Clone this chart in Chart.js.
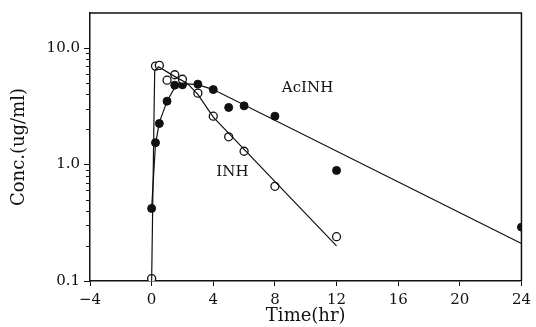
<!DOCTYPE html>
<html>
<head>
<meta charset="utf-8">
<script src="https://cdn.jsdelivr.net/npm/chart.js@4"></script>
<style>
  html, body { margin: 0; padding: 0; background: #fff; }
  #wrap { width: 536px; height: 327px; }
</style>
</head>
<body>
<div id="wrap"><canvas id="myChart"></canvas></div>
<script>
// measured points
var inhTime = [0, 0.25, 0.5, 1, 1.5, 2, 3, 4, 5, 6, 8, 12];
var inhConc = [0.105, 7.0, 7.1, 5.3, 5.9, 5.4, 4.1, 2.6, 1.73, 1.3, 0.65, 0.24];
var acTime = [0, 0.25, 0.5, 1, 1.5, 2, 3, 4, 5, 6, 8, 12, 24];
var acConc = [0.42, 1.54, 2.25, 3.5, 4.8, 4.83, 4.9, 4.4, 3.09, 3.19, 2.6, 0.89, 0.29];

// fitted curves
var inhFitTime = [0, 0.15, 0.2, 0.45, 1.4, 2.3, 3, 4, 12];
var inhFitConc = [0.1, 2.4, 6.4, 6.9, 5.8, 5.0, 4.0, 2.55, 0.2];
var acFitTime = [0, 0.25, 0.5, 1, 1.5, 2, 3, 4, 24];
var acFitConc = [0.42, 1.5, 2.3, 3.5, 4.6, 4.95, 4.85, 4.4, 0.21];

var xTicks = [-4, 0, 4, 8, 12, 16, 20, 24];
var yTicks = [0.1, 1, 10];
var yTickLabels = ['0.1', '1.0', '10.0'];

function pts(xs, ys) {
    return xs.map(function (x, i) { return { x: x, y: ys[i] }; });
}

var serif = 'DejaVu Serif';

// frame on top/right, minor log ticks, curve labels
var extras = {
    id: 'extras',
    afterDraw: function (chart) {
        var c = chart.ctx, a = chart.chartArea;
        var xs = chart.scales.x, ys = chart.scales.y;
        c.save();
        c.strokeStyle = '#111';
        c.lineWidth = 1.5;
        c.beginPath();
        c.moveTo(a.left, a.top);
        c.lineTo(a.right, a.top);
        c.lineTo(a.right, a.bottom);
        c.stroke();

        c.lineWidth = 1;
        c.beginPath();
        [0.1, 1].forEach(function (d) {
            for (var k = 2; k <= 9; k++) {
                var v = d * k;
                var py = Math.round(ys.getPixelForValue(v)) + 0.5;
                c.moveTo(a.left - 4, py);
                c.lineTo(a.left, py);
            }
        });
        c.stroke();

        c.fillStyle = '#111';
        c.font = '15px "' + serif + '"';
        c.textBaseline = 'middle';
        c.textAlign = 'left';
        c.fillText('AcINH', xs.getPixelForValue(8.45), ys.getPixelForValue(4.5));
        c.fillText('INH', xs.getPixelForValue(4.2), ys.getPixelForValue(0.86));
        c.restore();
    }
};

var ctx = document.getElementById('myChart').getContext('2d');
var chart = new Chart(ctx, {
    type: 'scatter',
    data: {
        datasets: [
            {
                label: 'INH fit',
                data: pts(inhFitTime, inhFitConc),
                showLine: true,
                borderColor: '#111',
                borderWidth: 1.2,
                pointRadius: 0,
                tension: 0
            },
            {
                label: 'AcINH fit',
                data: pts(acFitTime, acFitConc),
                showLine: true,
                borderColor: '#111',
                borderWidth: 1.2,
                pointRadius: 0,
                tension: 0
            },
            {
                label: 'INH',
                data: pts(inhTime, inhConc),
                pointStyle: 'circle',
                pointRadius: 4,
                pointBackgroundColor: '#fff',
                pointBorderColor: '#111',
                pointBorderWidth: 1.3
            },
            {
                label: 'AcINH',
                data: pts(acTime, acConc),
                pointStyle: 'circle',
                pointRadius: 4,
                pointBackgroundColor: '#111',
                pointBorderColor: '#111',
                pointBorderWidth: 1
            }
        ]
    },
    options: {
        responsive: true,
        maintainAspectRatio: false,
        animation: false,
        layout: { padding: { top: 12, right: 13, left: 0, bottom: 0 } },
        plugins: {
            legend: { display: false },
            tooltip: { enabled: false }
        },
        scales: {
            x: {
                type: 'linear',
                min: -4,
                max: 24,
                afterBuildTicks: function (s) { s.ticks = xTicks.map(function (v) { return { value: v }; }); },
                afterFit: function (s) { s.height = 46; },
                border: { display: true, color: '#111', width: 1.5 },
                grid: { drawOnChartArea: false, tickLength: 5, color: '#111', tickWidth: 1 },
                ticks: {
                    color: '#111',
                    padding: 5,
                    maxRotation: 0,
                    font: { family: serif, size: 15 },
                    callback: function (v) { return v < 0 ? '\u2212' + Math.abs(v) : String(v); }
                },
                title: {
                    display: true,
                    text: 'Time(hr)',
                    color: '#111',
                    padding: { top: 0, bottom: 0 },
                    font: { family: serif, size: 18 }
                }
            },
            y: {
                type: 'logarithmic',
                min: 0.1,
                max: 20,
                afterBuildTicks: function (s) { s.ticks = yTicks.map(function (v) { return { value: v, major: true }; }); },
                afterFit: function (s) { s.width = 90; },
                border: { display: true, color: '#111', width: 1.5 },
                grid: { drawOnChartArea: false, tickLength: 6, color: '#111', tickWidth: 1 },
                ticks: {
                    color: '#111',
                    padding: 4,
                    font: { family: serif, size: 15 },
                    callback: function (v) {
                        var i = yTicks.indexOf(v);
                        return i >= 0 ? yTickLabels[i] : '';
                    }
                },
                title: {
                    display: true,
                    text: 'Conc.(ug/ml)',
                    color: '#111',
                    padding: { top: 9, bottom: 0 },
                    font: { family: serif, size: 18 }
                }
            }
        }
    },
    plugins: [extras]
});
</script>
</body>
</html>
